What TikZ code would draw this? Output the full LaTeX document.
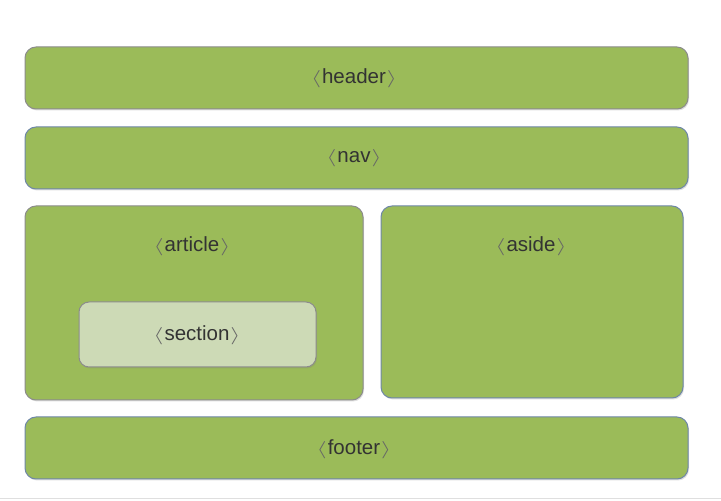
\documentclass[tikz,border=0pt]{standalone}
\usepackage{fontspec}
\usepackage{graphicx}
\setmainfont{Liberation Sans}
\usetikzlibrary{shadows}
\definecolor{boxgreen}{HTML}{9BBB59}
\definecolor{secgreen}{HTML}{CDDAB6}
\definecolor{bordgray}{HTML}{8C8C8C}
\definecolor{bordblue}{HTML}{6F87A8}
\definecolor{txt}{HTML}{333333}
\definecolor{brk}{HTML}{666666}
\newcommand{\lbk}{{\color{brk}\raisebox{0.5pt}{\scalebox{1.5}[1]{\fontsize{18}{18}\selectfont$\langle$}}}}
\newcommand{\rbk}{{\color{brk}\raisebox{0.5pt}{\scalebox{1.5}[1]{\fontsize{18}{18}\selectfont$\rangle$}}}}
\newcommand{\tg}[1]{\lbk\kern1pt#1\kern1pt\rbk}
\tikzset{
  box/.style={draw=bordgray, line width=1pt, fill=boxgreen, rounded corners=11pt,
    drop shadow={shadow xshift=1pt, shadow yshift=-1.5pt, opacity=0.25}},
  lbl/.style={text=txt, font=\fontsize{20.5}{22}\selectfont, inner sep=0pt}
}
\begin{document}
\begin{tikzpicture}[x=1pt,y=1pt]
\useasboundingbox (0,0) rectangle (721,501);
\fill[white] (0,0) rectangle (721,501);
\draw[gray!25, line width=1pt] (0,2.5) -- (721,2.5);
% header
\path[box] (25,392) rectangle (688,454);
\node[lbl] (header) at (354,423) {\tg{header}};
% nav
\path[box, draw=bordblue] (25,312) rectangle (688,374);
\node[lbl] (nav) at (354,343) {\tg{nav}};
% article
\path[box] (25,101) rectangle (363,295);
\node[lbl] (article) at (192,255) {\tg{article}};
% section
\path[box, fill=secgreen, rounded corners=10pt] (79,134) rectangle (316,199);
\node[lbl] (section) at (197,166) {\tg{section}};
% aside
\path[box, draw=bordblue] (381,103) rectangle (683,295);
\node[lbl] (aside) at (531,255) {\tg{aside}};
% footer
\path[box, draw=bordblue] (25,22) rectangle (688,84);
\node[lbl] (footer) at (354,52) {\tg{footer}};
\end{tikzpicture}
\end{document}
